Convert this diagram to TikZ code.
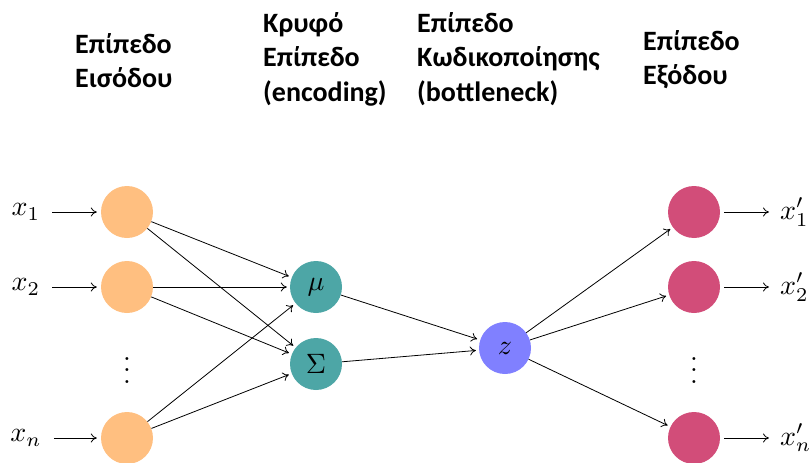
\documentclass[tikz,border=0pt]{standalone}
\usepackage{fontspec}
\usepackage{graphicx}
\newfontfamily\hdrfont{Carlito}
\usetikzlibrary{arrows.meta}
\definecolor{inc}{RGB}{255,191,128}
\definecolor{hidc}{RGB}{77,166,166}
\definecolor{zc}{RGB}{128,128,255}
\definecolor{outc}{RGB}{210,77,121}
\begin{document}
\begin{tikzpicture}[x=1pt,y=-1pt,
  neuron/.style={circle, minimum size=52pt, inner sep=0pt, draw=none},
  lbl/.style={inner sep=0pt},
  conn/.style={-{To[length=6pt,width=9pt]}, line width=0.8pt, shorten >=3pt},
  lblin/.style={conn, shorten <=12pt, shorten >=4pt},
  lblout/.style={conn, shorten <=4pt, shorten >=11pt},
  hdr/.style={anchor=base west, inner sep=0pt, font=\hdrfont\bfseries\fontsize{28}{34.5}\selectfont},
]
\useasboundingbox (0,0) rectangle (809,463);

% headers
\node[hdr] (h1) at (75,53) {\begin{tabular}[t]{@{}l@{}}Επίπεδο\\Εισόδου\end{tabular}};
\node[hdr] (h2) at (263,32) {\begin{tabular}[t]{@{}l@{}}Κρυφό\\Επίπεδο\\(encoding)\end{tabular}};
\node[hdr] (h3) at (417,32) {\begin{tabular}[t]{@{}l@{}}Επίπεδο\\Κωδικοποίησης\\(bottleneck)\end{tabular}};
\node[hdr] (h4) at (643,50) {\begin{tabular}[t]{@{}l@{}}Επίπεδο\\Εξόδου\end{tabular}};

% neurons
\node[neuron, fill=inc] (i1) at (127,212) {};
\node[neuron, fill=inc] (i2) at (127,287) {};
\node[neuron, fill=inc] (in) at (127,438) {};
\node[neuron, fill=hidc] (mu) at (316,287) {\scalebox{2.8}{$\mu$}};
\node[neuron, fill=hidc] (sig) at (316,364) {\scalebox{2.8}{$\Sigma$}};
\node[neuron, fill=zc] (z) at (505,348) {\scalebox{2.8}{$z$}};
\node[neuron, fill=outc] (o1) at (694,212) {};
\node[neuron, fill=outc] (o2) at (694,287) {};
\node[neuron, fill=outc] (on) at (694,438) {};

% dots
\node[lbl] (d1) at (127,362) {\scalebox{2.8}{$\vdots$}};
\node[lbl] (d2) at (694,362) {\scalebox{2.8}{$\vdots$}};

% labels
\node[lbl] (lx1) at (26,212) {\scalebox{2.8}{$x_1$}};
\node[lbl] (lx2) at (26,287) {\scalebox{2.8}{$x_2$}};
\node[lbl] (lxn) at (26,438) {\scalebox{2.8}{$x_n$}};
\node[lbl, anchor=west] (ly1) at (780,212) {\scalebox{2.8}{$x_1'$}};
\node[lbl, anchor=west] (ly2) at (780,287) {\scalebox{2.8}{$x_2'$}};
\node[lbl, anchor=west] (lyn) at (780,438) {\scalebox{2.8}{$x_n'$}};

% connectors
\draw[lblin] (lx1) -- (i1);
\draw[lblin] (lx2) -- (i2);
\draw[lblin] (lxn) -- (in);
\foreach \s in {i1,i2,in} {
  \draw[conn] (\s) -- (mu);
  \draw[conn] (\s) -- (sig);
}
\draw[conn] (mu) -- (z);
\draw[conn] (sig) -- (z);
\draw[conn] (z) -- (o1);
\draw[conn] (z) -- (o2);
\draw[conn] (z) -- (on);
\draw[lblout] (o1) -- (ly1);
\draw[lblout] (o2) -- (ly2);
\draw[lblout] (on) -- (lyn);
\end{tikzpicture}
\end{document}
